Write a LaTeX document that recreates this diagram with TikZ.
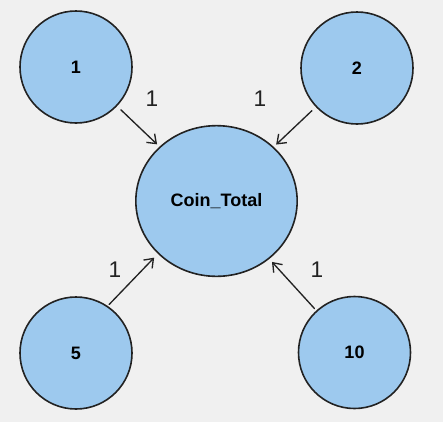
\documentclass[tikz,border=0pt]{standalone}
\usepackage{fontspec}
\setmainfont{Liberation Sans}
\usetikzlibrary{arrows.meta}
\usetikzlibrary{shapes.geometric}

\definecolor{coinblue}{RGB}{157,201,238}
\definecolor{bggray}{RGB}{240,240,240}
\definecolor{inkdark}{RGB}{34,34,34}

\begin{document}
\begin{tikzpicture}[x=0.75pt, y=-0.75pt, line cap=round, line join=round,
  >={Straight Barb[length=6pt,width=9pt]},
  coin/.style={circle, draw=inkdark, line width=1.2pt, fill=coinblue,
    minimum size=84pt, inner sep=0pt, font=\fontsize{13.5}{16}\selectfont\bfseries},
  total/.style={ellipse, draw=inkdark, line width=1.2pt, fill=coinblue,
    minimum width=121pt, minimum height=113pt, inner sep=0pt,
    font=\fontsize{13.5}{16}\selectfont\bfseries},
  count/.style={font=\fontsize{17}{20}\selectfont, text=inkdark},
  feed/.style={->, draw=inkdark, line width=1pt}]

\fill[bggray] (0,0) rectangle (443,422);
\useasboundingbox (0,0) rectangle (443,422);

\node[total] (sum) at (216.5,201) {Coin\_Total};

\node[coin] (one) at (76,67) {1};
\node[coin] (two) at (357,68) {2};
\node[coin] (five) at (76,353) {5};
\node[coin] (ten) at (354.5,352.5) {10};

\draw[feed, shorten <=4pt, shorten >=2.5pt] (one) -- (sum);
\draw[feed, shorten <=4pt, shorten >=2.5pt] (two) -- (sum);
\draw[feed, shorten <=1.5pt, shorten >=4pt] (five.56) -- (sum.222);
\draw[feed, shorten <=2pt, shorten >=3pt] (ten) -- (sum);

\node[count] (w1) at (152,99) {1};
\node[count] (w2) at (260,99) {1};
\node[count] (w5) at (115,270) {1};
\node[count] (w10) at (317,270) {1};
\end{tikzpicture}
\end{document}
